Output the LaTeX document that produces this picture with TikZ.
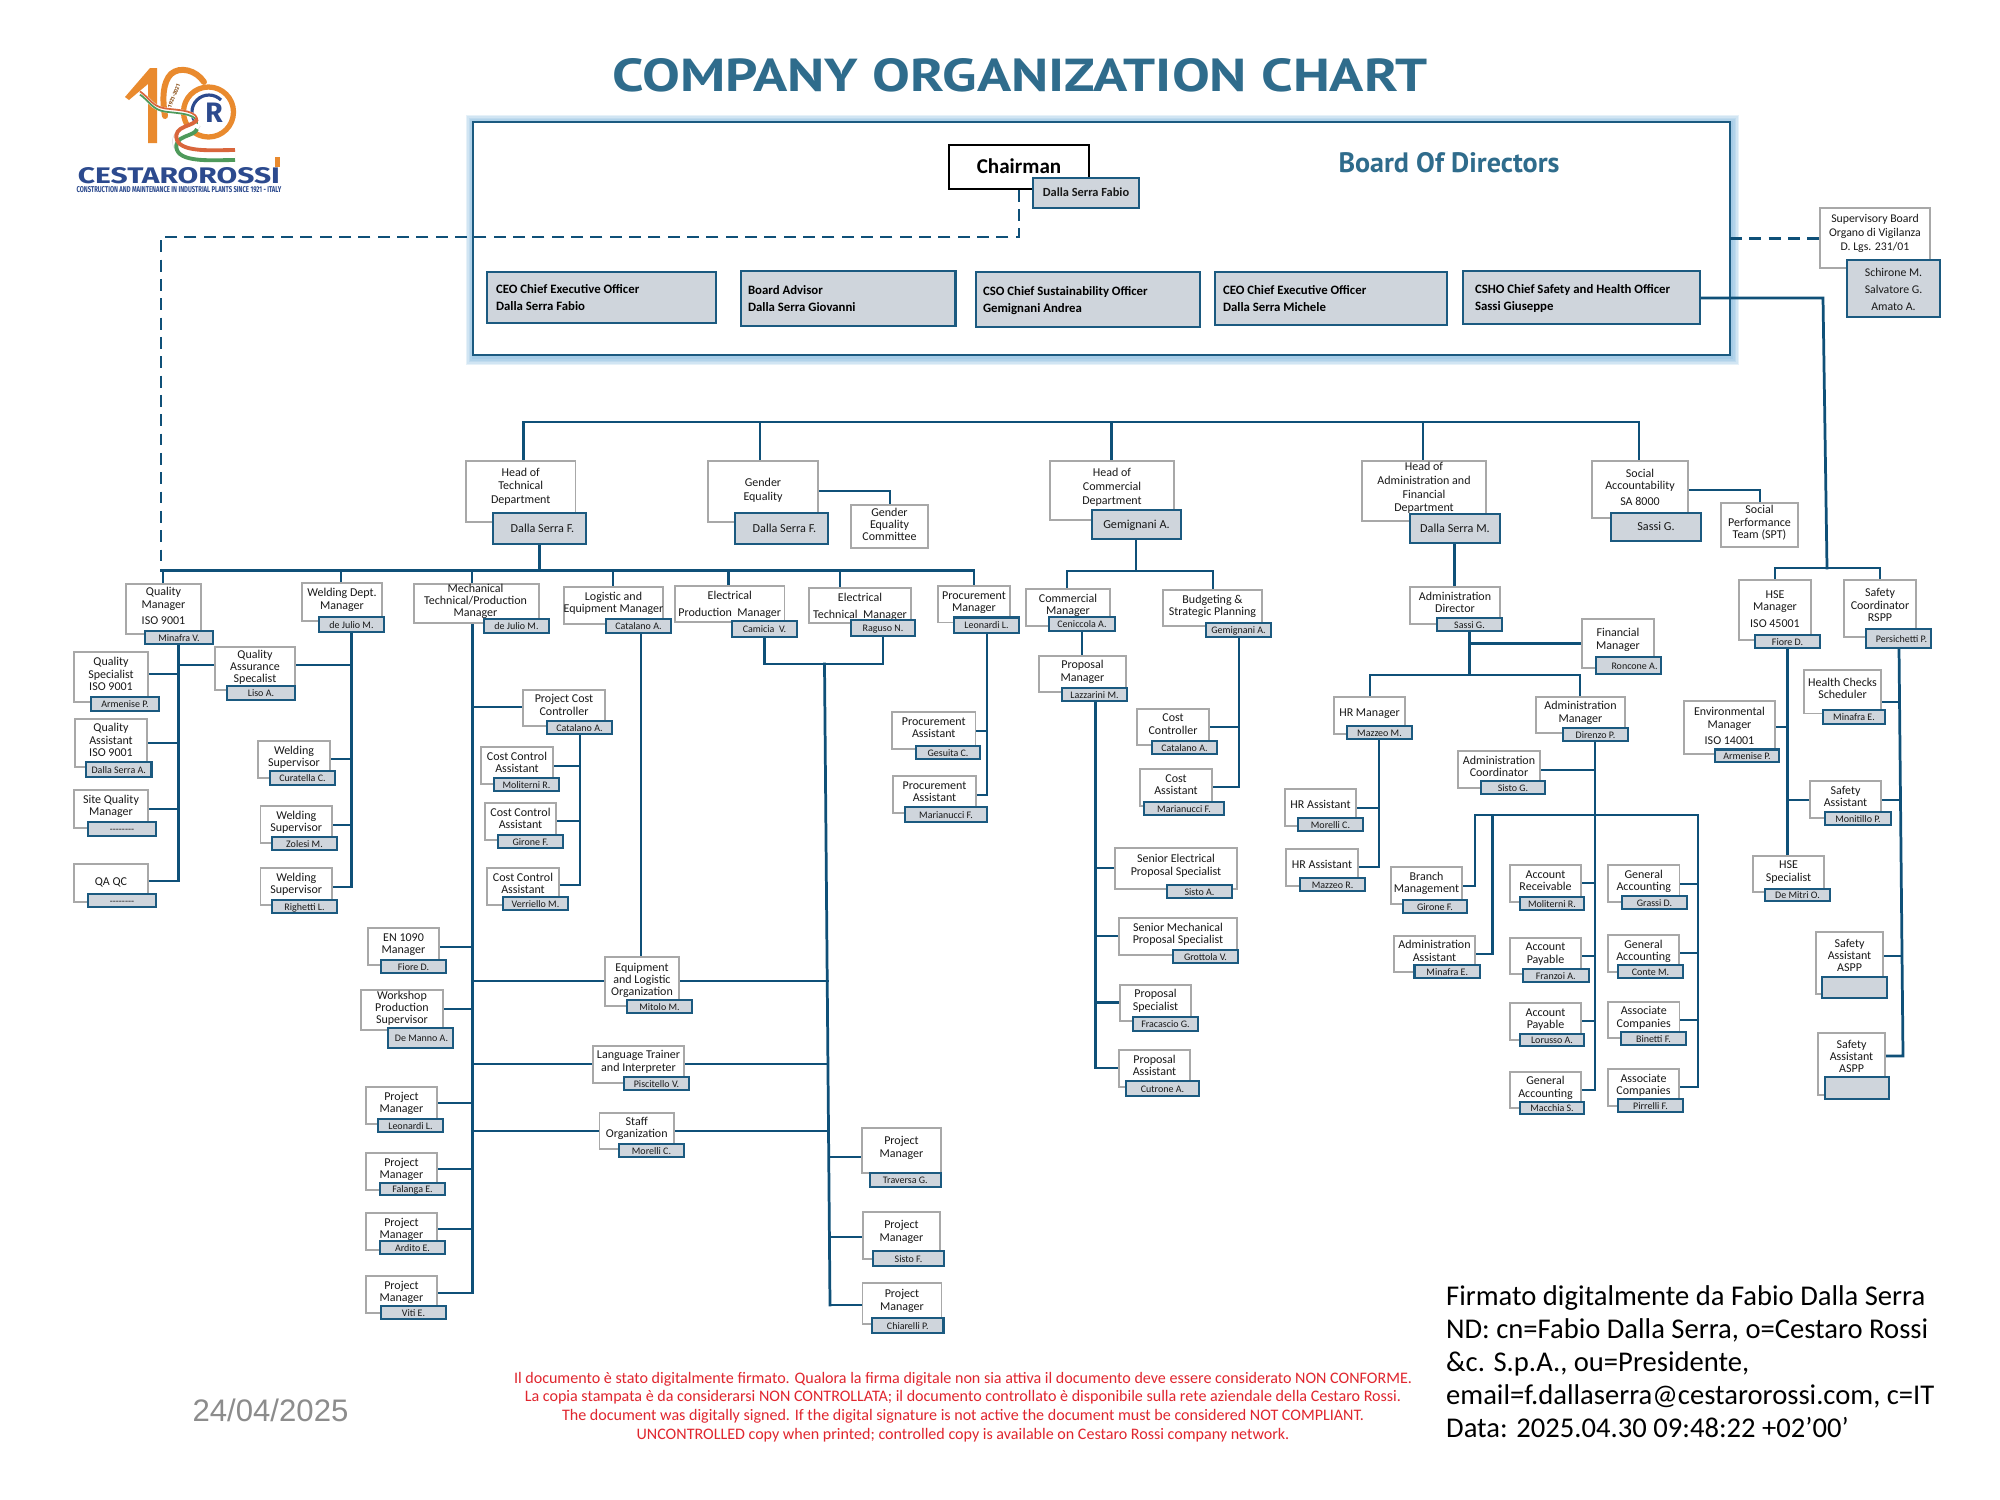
\documentclass[tikz,border=0pt]{standalone}
\usepackage{fontspec}
\usepackage{graphicx}
\setmainfont{Carlito}
\newfontfamily\titlefont{PT Sans}
\newfontfamily\logofont{Fira Sans}
\newfontfamily\datefont{Liberation Sans}
\usetikzlibrary{calc}
\definecolor{linec}{HTML}{0F5078}
\definecolor{tagf}{HTML}{CFD5DC}
\definecolor{tagd}{HTML}{1B5A80}
\definecolor{boxd}{HTML}{A8A8A8}
\definecolor{titlec}{HTML}{2F6C8C}
\definecolor{glowc}{HTML}{6FAEDB}
\definecolor{orangec}{HTML}{E98A2E}
\definecolor{logob}{HTML}{2C4A8E}
\definecolor{redt}{HTML}{E0262E}
\definecolor{ribg}{HTML}{4E9A5B}
\definecolor{ribr}{HTML}{D9663C}
\pgfdeclarelayer{bgzero}
\pgfdeclarelayer{bgone}
\pgfsetlayers{bgzero,bgone,main}
\tikzset{
 conn/.style={draw=linec,line width=3.9pt,line cap=rect,line join=miter},
 dashconn/.style={draw=linec,line width=4.2pt,dash pattern=on 17pt off 10.5pt},
 boxst/.style={draw=boxd,line width=1.7pt,fill=white,inner sep=0pt,text=black!90},
 tagst/.style={draw=tagd,line width=2.9pt,fill=tagf,inner sep=0pt,text=black!90},
 chairst/.style={draw=black,line width=2.2pt,fill=white,inner sep=0pt},
 memberst/.style={draw=tagd,line width=3pt,fill=tagf,inner sep=0pt,text=black},
 framest/.style={draw=tagd,line width=3.8pt,fill=white,inner sep=0pt},
 ribup/.pic={\draw[pic actions] (140,93) .. controls (150,100) and (152,108) .. (165,110) .. controls (180,112) and (200,112) .. (197,124);},
 riblo/.pic={\draw[pic actions] (197,124) .. controls (195,132) and (172,130) .. (177,145) .. controls (182,158) and (215,155) .. (235,155);},
}
\pgfqkeys{/bx}{dy/.store in=\myDy,dx/.store in=\myDx,fs/.store in=\myFs,ls/.store in=\myLs,ff/.store in=\myFf}
\newcommand\placenode[7]{%
 \pgfmathsetlengthmacro\myW{(#5-#3)*0.05cm}%
 \pgfmathsetlengthmacro\myH{(#6-#4)*0.05cm}%
 \pgfmathsetlengthmacro\myFS{\myFs*1.4226pt}%
 \pgfmathsetlengthmacro\myLS{\myLs*1.4226pt}%
 \pgfmathsetlengthmacro\myRY{(\myDy-1.2)*1.4226pt}%
 \pgfmathsetlengthmacro\myRX{2*\myDx*1.4226pt}%
 \node[#1,minimum width=\myW,minimum height=\myH] (#2) at ({(#3+#5)/2},{(#4+#6)/2})
 {\fontsize{\myFS}{\myLS}\selectfont\myFf\raisebox{\dimexpr\myRY-0.25em}[0pt][0pt]{\makebox[0pt][c]{\hspace*{\myRX}\begin{tabular}{@{}c@{}}#7\end{tabular}}}};%
}
\newcommand\bx[7][]{\def\myDy{2.5}\def\myDx{0}\def\myFs{12}\def\myLs{12.3}\def\myFf{}\pgfqkeys{/bx}{#1}\placenode{boxst}{#2}{#3}{#4}{#5}{#6}{#7}}
\newcommand\tg[7][]{\def\myDy{0}\def\myDx{0}\def\myFs{10}\def\myLs{12}\def\myFf{}\pgfqkeys{/bx}{#1}\placenode{tagst}{#2-t}{#3}{#4}{#5}{#6}{#7}}
\newcommand\member[8]{%
 \pgfmathsetlengthmacro\myW{(#4-#2)*0.05cm}%
 \pgfmathsetlengthmacro\myH{(#5-#3)*0.05cm}%
 \pgfmathsetlengthmacro\myIn{#6*1.4226pt}%
 \node[memberst,minimum width=\myW,minimum height=\myH] (#1) at ({(#2+#4)/2},{(#3+#5)/2})
 {\fontsize{18.2pt}{24.8pt}\selectfont\bfseries\raisebox{\dimexpr-1.6pt-0.25em}[0pt][0pt]{\makebox[\myW][l]{\hspace*{\myIn}\begin{tabular}{@{}l@{}}#7\\#8\end{tabular}}}};%
}
\newcommand\hs[3]{\coordinate (hsy) at (0,#3); \draw[conn] (#1 |- hsy) -- (#2 |- hsy);}
\newcommand\vs[3]{\coordinate (vsx) at (#3,0); \draw[conn] (#1 -| vsx) -- (#2 -| vsx);}
\def\dashes{-{}-{}-{}-{}-{}-{}-{}-}
\begin{document}
\begin{tikzpicture}[x=0.05cm,y=-0.05cm]
\useasboundingbox (0,0) rectangle (2000,1500);
\begin{pgfonlayer}{bgzero}
\fill[white] (0,0) rectangle (2000,1500);
\end{pgfonlayer}
% ---------- logo
 \draw[orangec,line width=7.5pt] (208.5,112) circle (25);
 \fill[orangec] (125,97) -- (150,68) -- (157,68) -- (157,143) -- (148,143) -- (148,84) -- (129,100) -- cycle;
 \draw[orangec,line width=8.5pt,line cap=round] (204,82) .. controls (196,70) and (180,66) .. (171,74) .. controls (163,82) and (162,98) .. (165,116);
 \draw[logob,line width=4.5pt] (221,100) arc[start angle=-45,end angle=-225,radius=17];
 \node[text=logob,inner sep=0pt] (logor) at (214,113) {\logofont\bfseries\fontsize{40pt}{40pt}\selectfont R};
 \node[text=orangec!60!black,inner sep=0pt,rotate=68] (logoyr) at (174,96) {\logofont\bfseries\fontsize{8pt}{8pt}\selectfont 1921-2021};
 \path[draw=white,line width=7pt] pic {ribup};
 \path[draw=ribg,line width=2.5pt,yshift=-0.08cm] pic {ribup};
 \path[draw=ribr,line width=2.5pt,yshift=0.08cm] pic {ribup};
 \path[draw=black!12,line width=12pt] pic {riblo};
 \path[draw=white,line width=10pt] pic {riblo};
 \path[draw=ribg,line width=5.5pt,yshift=-0.25cm] pic {riblo};
 \path[draw=ribr,line width=5.5pt,yshift=0.25cm] pic {riblo};
 \fill[orangec] (275,157) rectangle (280,167);
 \node[text=logob,inner sep=0pt] (logoa) at (179,176) {\resizebox{10.1cm}{0.8cm}{\logofont\bfseries CESTAROROSSI}};
 \node[text=logob,inner sep=0pt] (logob) at (179,190) {\resizebox{10.25cm}{0.3cm}{\logofont\bfseries CONSTRUCTION AND MAINTENANCE IN INDUSTRIAL PLANTS SINCE 1921 - ITALY}};
% ---------- title
\node[text=titlec,inner sep=0pt] (title) at (1020,75) {\resizebox{40.75cm}{1.65cm}{\titlefont\bfseries\fontsize{60pt}{60pt}\selectfont COMPANY ORGANIZATION CHART}};
% ---------- board
\begin{pgfonlayer}{bgzero}
 \foreach \w in {23,19,15,11,7}{
  \draw[glowc,draw opacity=0.17,line width=\w pt] (474,123) rectangle (1731,357);
 }
 \node[framest,minimum width=62.85cm,minimum height=11.65cm] (board) at (1101.5,238.5) {};
\end{pgfonlayer}
\node[text=titlec,inner sep=0pt] (bod) at (1449,163) {\resizebox{11.05cm}{!}{\titlefont\bfseries\fontsize{30pt}{30pt}\selectfont Board Of Directors}};
\node[chairst,minimum width=7cm,minimum height=2.2cm] (chair) at (1019,167) {\raisebox{3pt}{\fontsize{30pt}{30pt}\selectfont\bfseries Chairman}};
\tg[fs=12.4,ff=\bfseries]{chair}{1033}{178}{1139}{208}{Dalla Serra Fabio}
\member{ceof}{487}{272}{716}{323}{9}{CEO Chief Executive Officer}{Dalla Serra Fabio}
\member{adv}{741}{271}{955.5}{326}{7}{Board Advisor}{Dalla Serra Giovanni}
\member{cso}{976}{272}{1200}{327}{7}{CSO Chief Sustainability Officer}{Gemignani Andrea}
\member{ceom}{1215}{272}{1447}{325}{8}{CEO Chief Executive Officer}{Dalla Serra Michele}
\member{csho}{1463}{271}{1700}{324}{12}{CSHO Chief Safety and Health Officer}{Sassi Giuseppe}
% supervisory
\bx[dy=5,fs=11.8,ls=14]{sv}{1820}{208}{1930}{268}{Supervisory Board\\Organo di Vigilanza\\D. Lgs. 231/01}
\tg[fs=11.8,ls=17]{sv}{1847}{260}{1940}{317}{Schirone M.\\Salvatore G.\\Amato A.}
% ---------- heads
\bx[dy=5.5,ls=13.7]{hot}{466}{461}{575.5}{522}{Head of\\Technical\\Department}
\tg[fs=12.2,dx=3]{hot}{493}{513}{586}{544}{Dalla Serra F.}
\bx[dy=2,ls=13.7]{gen}{708}{461}{818}{522}{Gender\\Equality}
\tg[fs=12.2,dx=3]{gen}{735}{513}{828}{544}{Dalla Serra F.}
\bx[dy=1.5]{com}{851}{505}{928}{548}{Gender\\Equality\\Committee}
\bx[dy=4,ls=13.7]{hoc}{1050}{461}{1174}{520}{Head of\\Commercial\\Department}
\tg[fs=12.2]{hoc}{1092}{510}{1181}{539}{Gemignani A.}
\bx[dy=3.5,ls=13.7]{hoa}{1362}{461}{1486}{521}{Head of\\Administration and\\Financial\\Department}
\tg[fs=12.2]{hoa}{1410}{514}{1500}{543}{Dalla Serra M.}
\bx[dy=1.5]{sac}{1592}{461}{1688}{518}{Social\\Accountability\\[5pt]SA 8000}
\tg[fs=12.2]{sac}{1611}{513}{1701}{541}{Sassi G.}
\bx{spt}{1721}{503}{1798}{547}{Social\\Performance\\Team (SPT)}
% ---------- quality column
\bx[dy=2.5]{qm}{126}{584}{201}{634}{Quality\\Manager\\[6pt]ISO 9001}
\tg{qm}{145}{631}{213}{644}{Minafra V.}
\bx{qs}{74}{652}{148}{702}{Quality\\Specialist\\ISO 9001}
\tg{qs}{91}{697}{159}{711}{Armenise P.}
\bx{qa}{75}{719}{147}{767}{Quality\\Assistant\\ISO 9001}
\tg{qa}{86}{762}{151.5}{777}{Dalla Serra A.}
\bx[dy=3]{sqm}{74}{790}{148}{828}{Site Quality\\Manager}
\tg{sqm}{88}{822}{156}{836}{\dashes}
\bx[dy=1.5]{qaqc}{74}{864}{148}{902}{QA QC}
\tg{qaqc}{88}{894}{156}{907}{\dashes}
\bx[dy=1.5]{qas}{215}{647}{295}{690}{Quality\\Assurance\\Specalist}
\tg{qas}{227}{686}{295}{700}{Liso A.}
% ---------- welding
\bx{wd}{302}{583}{382}{621}{Welding Dept.\\Manager}
\tg{wd}{319}{617}{384}{632}{de Julio M.}
\bx{sup1}{258}{741}{330}{778}{Welding\\Supervisor}
\tg{sup1}{270}{771}{335}{785}{Curatella C.}
\bx{sup2}{260.5}{806}{332}{843}{Welding\\Supervisor}
\tg{sup2}{272}{837}{337}{850}{Zolesi M.}
\bx{sup3}{260.5}{868}{332}{905}{Welding\\Supervisor}
\tg{sup3}{272}{900}{337}{913}{Righetti L.}
% ---------- mechanical
\bx[dx=-1]{mech}{414}{584}{539}{623}{Mechanical\\Technical/Production\\Manager}
\tg{mech}{484}{619}{549}{633}{de Julio M.}
\bx{pc}{523}{690}{605}{726}{Project Cost\\Controller}
\tg{pc}{547}{721}{612}{734}{Catalano A.}
\bx{cc1}{481}{747}{553}{784}{Cost Control\\Assistant}
\tg{cc1}{494}{778}{559}{791}{Moliterni R.}
\bx{cc2}{485}{803}{556}{840}{Cost Control\\Assistant}
\tg{cc2}{498}{835}{563}{848}{Girone F.}
\bx{cc3}{487}{868}{559}{905}{Cost Control\\Assistant}
\tg{cc3}{503}{897}{568}{910}{Verriello M.}
\bx{en}{368}{928}{439}{965}{EN 1090\\Manager}
\tg{en}{381}{960}{446}{973}{Fiore D.}
\bx[dy=2]{ws}{361}{990}{443}{1030}{Workshop\\Production\\Supervisor}
\tg[dx=1]{ws}{388}{1028}{453}{1048}{De Manno A.}
\bx{pml}{366}{1087}{437}{1124}{Project\\Manager}
\tg{pml}{378}{1119}{443}{1132}{Leonardi L.}
\bx{pmf}{366}{1153}{437}{1190}{Project\\Manager}
\tg{pmf}{380}{1183}{445}{1195}{Falanga E.}
\bx{pma}{366}{1213}{437}{1250}{Project\\Manager}
\tg{pma}{380}{1241}{445}{1254}{Ardito E.}
\bx{pmv}{366}{1276}{437}{1313}{Project\\Manager}
\tg{pmv}{381}{1306}{446}{1319}{Viti E.}
% ---------- logistic / electrical
\bx{log}{564}{587}{663}{624}{Logistic and\\Equipment Manager}
\tg{log}{606}{619}{671}{633}{Catalano A.}
\bx[ls=17,dy=0.5]{ep}{675}{586}{784.5}{622}{Electrical\\Production\ \ Manager}
\tg{ep}{732}{621}{797}{637}{Camicia \ V.}
\bx[ls=17,dy=0.5]{et}{809}{588}{911}{623}{Electrical\\Technical\ \ Manager}
\tg{et}{851}{620}{915}{636}{Raguso N.}
\bx{pr}{938}{586}{1010}{622.5}{Procurement\\Manager}
\tg{pr}{954}{617.5}{1019}{633}{Leonardi L.}
\bx{pa1}{892}{712}{975.5}{749}{Procurement\\Assistant}
\tg{pa1}{916}{746}{980}{759}{Gesuita C.}
\bx{pa2}{893}{776}{976}{813}{Procurement\\Assistant}
\tg{pa2}{905}{807}{987}{822}{Marianucci F.}
\bx[dy=1.5]{eq}{605}{957}{679}{1006}{Equipment\\and Logistic\\Organization}
\tg{eq}{627}{1000}{692}{1013}{Mitolo M.}
\bx[dy=3]{lg}{593}{1046}{684}{1083}{Language Trainer\\and Interpreter}
\tg{lg}{624}{1077}{689}{1090}{Piscitello V.}
\bx[dy=3]{st}{599.5}{1113}{674}{1149}{Staff\\Organization}
\tg{st}{619}{1144}{684}{1157}{Morelli C.}
\bx[dy=3]{pmt}{862}{1128}{941}{1173}{Project\\Manager}
\tg{pmt}{869.6}{1173}{941}{1187}{Traversa G.}
\bx[dy=4]{pms}{863}{1212}{940}{1259}{Project\\Manager}
\tg{pms}{873}{1251}{944}{1266}{Sisto F.}
\bx[dy=3]{pmc}{862.5}{1283}{941.5}{1324}{Project\\Manager}
\tg{pmc}{872}{1318}{943.5}{1333}{Chiarelli P.}
% ---------- commercial
\bx[dy=2.5]{cm}{1026}{589}{1110}{626}{Commercial\\Manager}
\tg{cm}{1049}{617}{1115}{631}{Ceniccola A.}
\bx[dy=2]{bu}{1163}{590}{1262}{626}{Budgeting \&\\Strategic Planning}
\tg{bu}{1206}{623}{1271}{637}{Gemignani A.}
\bx{pp}{1039}{656}{1126}{692}{Proposal\\Manager}
\tg{pp}{1062}{688}{1127}{701}{Lazzarini M.}
\bx{cco}{1137}{709}{1209}{745}{Cost\\Controller}
\tg{cco}{1152}{741}{1217}{754}{Catalano A.}
\bx{cas}{1140}{769}{1212}{806}{Cost\\Assistant}
\tg{cas}{1144}{802}{1224}{815}{Marianucci F.}
\bx[dy=3]{sel}{1115}{848}{1237}{889}{Senior Electrical\\Proposal Specialist}
\tg{sel}{1167}{885}{1232}{898}{Sisto A.}
\bx[dy=2.5]{sme}{1119}{918}{1237}{955}{Senior Mechanical\\Proposal Specialist}
\tg{sme}{1173}{950}{1238}{963}{Grottola V.}
\bx{psp}{1120}{985}{1191}{1021}{Proposal\\Specialist}
\tg{psp}{1133}{1017}{1198}{1031}{Fracascio G.}
\bx{pas}{1119}{1050}{1190}{1087}{Proposal\\Assistant}
\tg{pas}{1126}{1081}{1199}{1096}{Cutrone A.}
% ---------- administration
\bx{adir}{1410}{587}{1500}{624}{Administration\\Director}
\tg{adir}{1437}{618}{1502}{631}{Sassi G.}
\bx[dy=4]{fin}{1582}{619}{1654}{668}{Financial\\Manager}
\tg[dx=6]{fin}{1596}{657}{1661}{674}{Roncone A.}
\bx[dy=3]{hrm}{1334}{697}{1405}{734}{HR Manager}
\tg{hrm}{1347}{726}{1412}{739}{Mazzeo M.}
\bx{hr1}{1285}{789}{1356}{826}{HR Assistant}
\tg{hr1}{1298}{818}{1363}{831}{Morelli C.}
\bx{hr2}{1286}{849}{1358}{886}{HR Assistant}
\tg{hr2}{1300}{878}{1365}{891}{Mazzeo R.}
\bx{am}{1536}{697}{1625}{733}{Administration\\Manager}
\tg{am}{1563}{728}{1628}{741}{Direnzo P.}
\bx{aco}{1458}{751}{1540}{788}{Administration\\Coordinator}
\tg{aco}{1481}{781}{1545}{794}{Sisto G.}
\bx{br}{1391}{867}{1462}{904}{Branch\\Management}
\tg{br}{1403}{900}{1467}{913}{Girone F.}
\bx{aas}{1394}{936}{1475}{972}{Administration\\Assistant}
\tg{aas}{1414.5}{965}{1480}{978}{Minafra E.}
\bx{acr}{1510}{865}{1581}{902}{Account\\Receivable}
\tg{acr}{1520}{897}{1584}{910}{Moliterni R.}
\bx{ap1}{1510}{938}{1581}{974}{Account\\Payable}
\tg{ap1}{1523}{969}{1588.5}{982}{Franzoi A.}
\bx{ap2}{1510}{1003}{1581}{1040}{Account\\Payable}
\tg{ap2}{1520}{1034}{1584}{1046}{Lorusso A.}
\bx{gam}{1510}{1072}{1581}{1108}{General\\Accounting}
\tg{gam}{1520}{1102}{1584}{1114}{Macchia S.}
\bx{gag}{1608}{865}{1679.5}{902}{General\\Accounting}
\tg{gag}{1622}{896}{1687}{909}{Grassi D.}
\bx{gac}{1608}{935}{1679}{972}{General\\Accounting}
\tg{gac}{1618}{965}{1683}{978}{Conte M.}
\bx{asb}{1608}{1002}{1679.5}{1038}{Associate\\Companies}
\tg{asb}{1621}{1032}{1686}{1045}{Binetti F.}
\bx{asp}{1608}{1069}{1679}{1106}{Associate\\Companies}
\tg{asp}{1618}{1099}{1683}{1112}{Pirrelli F.}
% ---------- HSE
\bx[dy=1]{hse}{1739}{580}{1811}{640}{HSE\\Manager\\[6pt]ISO 45001}
\tg{hse}{1755}{635}{1820}{648}{Fiore D.}
\bx[dy=3]{sc}{1844}{580}{1916}{637}{Safety\\Coordinator\\RSPP}
\tg[dx=3]{sc}{1866}{629}{1931}{648}{Persichetti P.}
\bx[dy=3]{hc}{1804}{670}{1881}{713.5}{Health Checks\\Scheduler}
\tg{hc}{1823}{710}{1885}{724}{Minafra E.}
\bx[dy=1]{env}{1684}{701}{1775}{754}{Environmental\\Manager\\[6pt]ISO 14001}
\tg{env}{1715}{749.5}{1779}{762}{Armenise P.}
\bx{sa}{1810}{781}{1881}{818}{Safety\\Assistant}
\tg{sa}{1825}{812}{1891}{825}{Monitillo P.}
\bx{hs}{1753}{856}{1824}{892}{HSE\\Specialist}
\tg{hs}{1765}{889}{1830}{901}{De Mitri O.}
\bx[dy=7]{as1}{1816}{932}{1883}{994}{Safety\\Assistant\\ASPP}
\tg{as1}{1822}{977}{1887}{998}{}
\bx[dy=7]{as2}{1818}{1033}{1885}{1095}{Safety\\Assistant\\ASPP}
\tg{as2}{1824.5}{1077}{1889}{1099}{}
% ---------- footer
\node[text=black!45,inner sep=0pt] (date) at (270.5,1410) {\datefont\fontsize{44.3pt}{44pt}\selectfont 24/04/2025};
\node[text=redt,inner sep=0pt,align=center,font=\fontsize{22.85pt}{26.6pt}\selectfont] (warn) at (963,1407) {Il documento è stato digitalmente firmato. Qualora la firma digitale non sia attiva il documento deve essere considerato NON CONFORME.\\La copia stampata è da considerarsi NON CONTROLLATA; il documento controllato è disponibile sulla rete aziendale della Cestaro Rossi.\\The document was digitally signed. If the digital signature is not active the document must be considered NOT COMPLIANT.\\UNCONTROLLED copy when printed; controlled copy is available on Cestaro Rossi company network.};
\node[text=black,inner sep=0pt,align=left,anchor=west,font=\fontsize{40.7pt}{47pt}\selectfont] (sig) at (1446,1362) {Firmato digitalmente da Fabio Dalla Serra\\ND: cn=Fabio Dalla Serra, o=Cestaro Rossi\\\&c. S.p.A., ou=Presidente,\\email=f.dallaserra@cestarorossi.com, c=IT\\Data: 2025.04.30 09:48:22 +02\symbol{39}00\symbol{39}};
% ---------- connectors
\begin{pgfonlayer}{bgone}
 \coordinate (dA) at (1019,237); \coordinate (dB) at (161,237);
 \coordinate (busA) at (523.5,422); \coordinate (busB) at (1639,422);
 \coordinate (bus2L) at (161,570.5); \coordinate (bus2R) at (974,570.5);
 \draw[dashconn] (chair.south) -- (dA) -- (dB) -- (bus2L);
 \coordinate (dC) at (1730,238.5);
 \draw[dashconn] (dC) -- (dC -| sv.west);
 \draw[conn] (hot.north -| busA) -- (busA) -- (busB) -- (sac.north -| busB);
 \vs{busA}{gen.north}{760}
 \vs{busA}{hoc.north}{1111.6}
 \vs{busA}{hoa.north}{1423}
 \coordinate (gy) at (890,491);
 \draw[conn] (gy -| gen.east) -- (gy) -- (com.north -| gy);
 \coordinate (sy) at (1760,490);
 \draw[conn] (sy -| sac.east) -- (sy) -- (spt.north -| sy);
 % technical bus
 \draw[conn] (bus2L) -- (bus2R) -- (pr.north -| bus2R);
 \vs{hot-t.south}{bus2L}{539.5}
 \vs{bus2L}{qm.north}{163}
 \vs{bus2L}{wd.north}{341}
 \vs{bus2L}{mech.north}{472}
 \vs{bus2L}{log.north}{613}
 \vs{bus2L}{ep.north}{728.6}
 \vs{bus2L}{et.north}{840}
 % quality
 \coordinate (tQM) at (178.6,881);
 \draw[conn] (qm-t.south -| tQM) -- (tQM);
 \hs{qs.east}{tQM}{674}\hs{qa.east}{tQM}{743}\hs{sqm.east}{tQM}{809}\hs{qaqc.east}{tQM}{881}\hs{qas.west}{tQM}{665}
 % welding
 \coordinate (tWD) at (351.6,887);
 \draw[conn] (wd-t.south -| tWD) -- (tWD);
 \hs{qas.east}{tWD}{665}\hs{sup1.east}{tWD}{759}\hs{sup2.east}{tWD}{825}\hs{sup3.east}{tWD}{887}
 % mechanical
 \coordinate (tME) at (472.5,1293);
 \draw[conn] (mech.south -| tME) -- (tME);
 \hs{pc.west}{tME}{707}\hs{en.east}{tME}{947}\hs{ws.east}{tME}{1009}\hs{pml.east}{tME}{1103}\hs{pmf.east}{tME}{1169}\hs{pma.east}{tME}{1229}\hs{pmv.east}{tME}{1293}\hs{eq.west}{tME}{981}\hs{lg.west}{tME}{1064}\hs{st.west}{tME}{1131}
 \coordinate (tCC) at (580,885);
 \draw[conn] (pc-t.south -| tCC) -- (tCC);
 \hs{cc1.east}{tCC}{766}\hs{cc2.east}{tCC}{821}\hs{cc3.east}{tCC}{885}
 \vs{log-t.south}{eq.north}{641}
 % electrical
 \coordinate (jA) at (764.5,664); \coordinate (jB) at (883,664); \coordinate (jC) at (824.5,664); \coordinate (tEL) at (830,1305);
 \draw[conn] (ep-t.south -| jA) -- (jA) -- (jB) -- (et-t.south -| jB);
 \draw[conn] (jC) -- (tEL);
 \coordinate (tE1) at (827.5,0); \coordinate (tE2) at (829.5,0);
 \hs{eq.east}{tE1}{981}\hs{lg.east}{tE1}{1064}\hs{st.east}{tE1}{1131}\hs{pmt.west}{tE2}{1157}\hs{pms.west}{tE2}{1237}\hs{pmc.west}{tEL}{1305}
 % procurement
 \coordinate (tPR) at (987,795);
 \draw[conn] (pr-t.south -| tPR) -- (tPR);
 \hs{pa1.east}{tPR}{731}\hs{pa2.east}{tPR}{795}
 % commercial
 \coordinate (cA) at (1067,571); \coordinate (cB) at (1213,571);
 \draw[conn] (cm.north -| cA) -- (cA) -- (cB) -- (bu.north -| cB);
 \vs{hoc-t.south}{cA}{1136}
 \vs{cm-t.south}{pp.north}{1082}
 \coordinate (tPP) at (1095.5,1068);
 \draw[conn] (pp-t.south -| tPP) -- (tPP);
 \hs{sel.west}{tPP}{868}\hs{sme.west}{tPP}{936}\hs{psp.west}{tPP}{1002.5}\hs{pas.west}{tPP}{1068}
 \coordinate (tBU) at (1239,787);
 \draw[conn] (bu-t.south -| tBU) -- (tBU);
 \hs{cco.east}{tBU}{727}\hs{cas.east}{tBU}{787}
 % administration
 \vs{hoa-t.south}{adir.north}{1454.5}
 \coordinate (aA) at (1370,675); \coordinate (aB) at (1580,675); \coordinate (aT) at (1469.5,675);
 \draw[conn] (hrm.north -| aA) -- (aA) -- (aB) -- (am.north -| aB);
 \draw[conn] (adir-t.south -| aT) -- (aT);
 \hs{aT}{fin.west}{643.5}
 \coordinate (tHR) at (1379,867);
 \draw[conn] (hrm-t.south -| tHR) -- (tHR);
 \hs{hr1.east}{tHR}{808}\hs{hr2.east}{tHR}{867}
 \coordinate (tAM) at (1595,1090);
 \draw[conn] (am-t.south -| tAM) -- (tAM);
 \hs{aco.east}{tAM}{770}\hs{acr.east}{tAM}{883}\hs{ap1.east}{tAM}{956}\hs{ap2.east}{tAM}{1021}\hs{gam.east}{tAM}{1090}
 \coordinate (bA) at (1475,815); \coordinate (bB) at (1698,815); \coordinate (bC) at (1475,886); \coordinate (bD) at (1698,1087);
 \draw[conn] (bC -| br.east) -- (bC) -- (bA) -- (bB) -- (bD) -- (bD -| asp.east);
 \coordinate (bE) at (1492.6,815); \coordinate (bF) at (1492.6,954);
 \draw[conn] (bE) -- (bF) -- (bF -| aas.east);
 \hs{gag.east}{bD}{884}\hs{gac.east}{bD}{953}\hs{asb.east}{bD}{1020}
 % HSE
 \coordinate (hA) at (1823,298); \coordinate (hB) at (1827,568); \coordinate (hC) at (1775,568); \coordinate (hD) at (1880,568);
 \draw[conn] (hA -| csho.east) -- (hA) -- (hB);
 \draw[conn] (hse.north -| hC) -- (hC) -- (hD) -- (sc.north -| hD);
 \coordinate (tHS) at (1787.5,856);
 \draw[conn] (hse-t.south -| tHS) -- (tHS);
 \hs{env.east}{tHS}{727}\hs{sa.west}{tHS}{800}
 \coordinate (sTop) at (1899,648); \coordinate (sBot) at (1903,1056);
 \draw[conn] (sTop) -- (sBot) -- (sBot -| as2.east);
 \coordinate (s1) at (1899.5,0); \coordinate (s2) at (1900.5,0); \coordinate (s3) at (1902,0);
 \hs{hc.east}{s1}{702}\hs{sa.east}{s2}{800}\hs{as1.east}{s3}{956}
\end{pgfonlayer}
\end{tikzpicture}
\end{document}
